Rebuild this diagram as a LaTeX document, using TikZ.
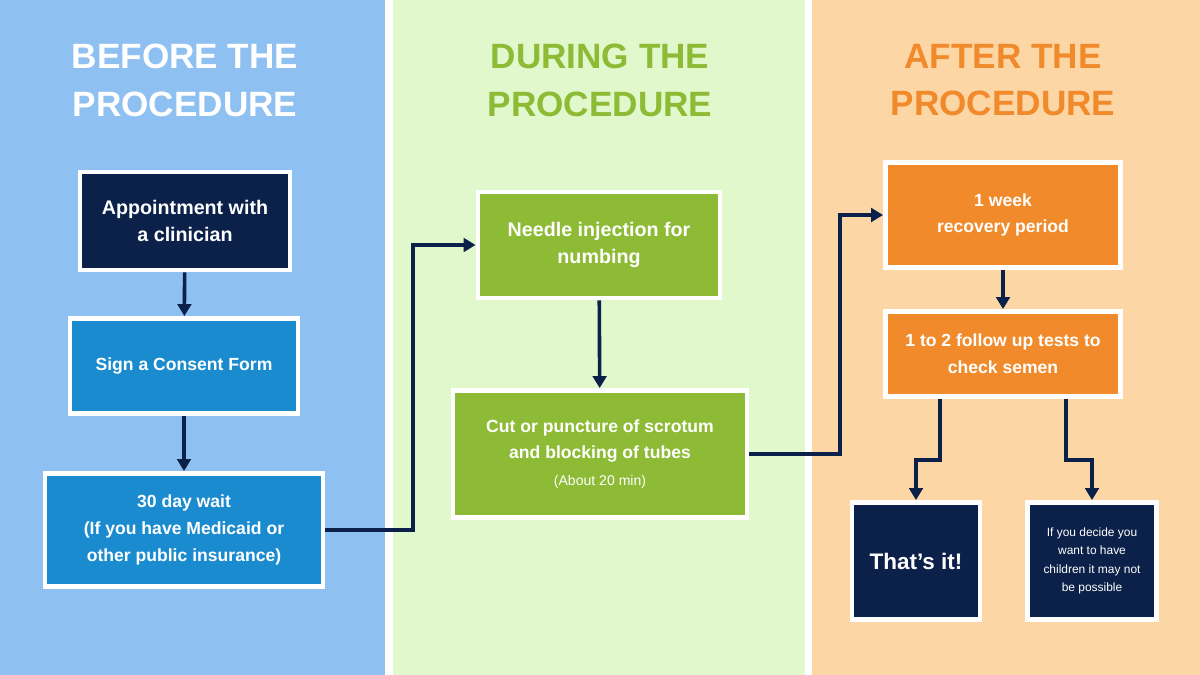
\documentclass[tikz,border=0pt]{standalone}
\usepackage{fontspec}
\setmainfont{Liberation Sans}
\usepackage{xcolor}
\usetikzlibrary{arrows.meta}
\definecolor{cNavy}{HTML}{0B2149}
\definecolor{cBlue}{HTML}{1B8BCF}
\definecolor{cGreen}{HTML}{8DBB35}
\definecolor{cOrange}{HTML}{F18A2A}
\definecolor{cBgBlue}{HTML}{8EC0F2}
\definecolor{cBgGreen}{HTML}{E0F8CC}
\definecolor{cBgOrange}{HTML}{FDD6A6}
\tikzstyle{tsTitle} = [
    font=\bfseries\fontsize{25}{34}\selectfont,
    align=center
]
\tikzstyle{tsBox} = [
    rectangle,
    draw=white,
    line width=1.2mm,
    text=white,
    font=\bfseries\fontsize{14}{19}\selectfont,
    align=center,
    inner sep=0pt
]
\tikzstyle{tsArrow} = [
    draw=cNavy,
    line width=0.9mm,
    -{Triangle[length=3mm,width=3.4mm]}
]

\begin{document}
\begin{tikzpicture}[x=0.025cm,y=-0.025cm]

        % panels
        \fill[white] (0,0) rectangle (1200,675);
        \fill[cBgBlue] (0,0) rectangle (385,675);
        \fill[cBgGreen] (393,0) rectangle (805,675);
        \fill[cBgOrange] (812,0) rectangle (1200,675);

        \node[tsTitle, text=white] (tBefore) at (185,80) {BEFORE THE\\PROCEDURE};
        \node[tsTitle, text=cGreen] (tDuring) at (600,80) {DURING THE\\PROCEDURE};
        \node[tsTitle, text=cOrange] (tAfter) at (1003,80) {AFTER THE\\PROCEDURE};

        % before
        \node[tsBox, fill=cNavy, minimum width=210*0.025cm, minimum height=98*0.025cm] (appt) at (185,221) {Appointment with\\a clinician};
        \node[tsBox, fill=cBlue, minimum width=228*0.025cm, minimum height=95*0.025cm,
              font=\bfseries\fontsize{12.5}{17}\selectfont] (sign) at (184,366) {Sign a Consent Form};
        \node[tsBox, fill=cBlue, minimum width=278*0.025cm, minimum height=113*0.025cm,
              font=\bfseries\fontsize{12.5}{19}\selectfont] (wait) at (184,530) {30 day wait\\(If you have Medicaid or\\other public insurance)};

        % during
        \node[tsBox, fill=cGreen, minimum width=242*0.025cm, minimum height=106*0.025cm] (needle) at (599,245) {Needle injection for\\numbing};
        \node[tsBox, fill=cGreen, minimum width=294*0.025cm, minimum height=127*0.025cm,
              font=\bfseries\fontsize{12.5}{19}\selectfont] (cut) at (600,454) {Cut or puncture of scrotum\\and blocking of tubes\\{\mdseries\fontsize{10}{14}\selectfont (About 20 min)}};

        % after
        \node[tsBox, fill=cOrange, minimum width=235*0.025cm, minimum height=105*0.025cm,
              font=\bfseries\fontsize{12.5}{19}\selectfont] (week) at (1003,215) {1 week\\recovery period};
        \node[tsBox, fill=cOrange, minimum width=235*0.025cm, minimum height=85*0.025cm,
              font=\bfseries\fontsize{12.5}{19}\selectfont] (follow) at (1003,354) {1 to 2 follow up tests to\\check semen};
        \node[tsBox, fill=cNavy, minimum width=128*0.025cm, minimum height=117*0.025cm,
              font=\bfseries\fontsize{16}{20}\selectfont] (thats) at (916,561) {That’s it!};
        \node[tsBox, fill=cNavy, minimum width=129*0.025cm, minimum height=117*0.025cm,
              font=\mdseries\fontsize{8.5}{13}\selectfont] (ifyou) at (1092,561) {If you decide you\\want to have\\children it may not\\be possible};

        % arrows
        \draw[tsArrow] (appt) -- (sign);
        \draw[tsArrow] (sign) -- (wait);
        \draw[tsArrow] (wait.east) -- (413,530) -- (413,245) -- (needle.west);
        \draw[tsArrow] (needle) -- (cut);
        \draw[tsArrow] (cut.east) -- (840,454) -- (840,215) -- (week.west);
        \draw[tsArrow] (week) -- (follow);
        \draw[tsArrow] (follow.south -| 940,0) -- (940,460) -- (916,460) -- (thats.north);
        \draw[tsArrow] (follow.south -| 1066,0) -- (1066,460) -- (1092,460) -- (ifyou.north);

\end{tikzpicture}
\end{document}
